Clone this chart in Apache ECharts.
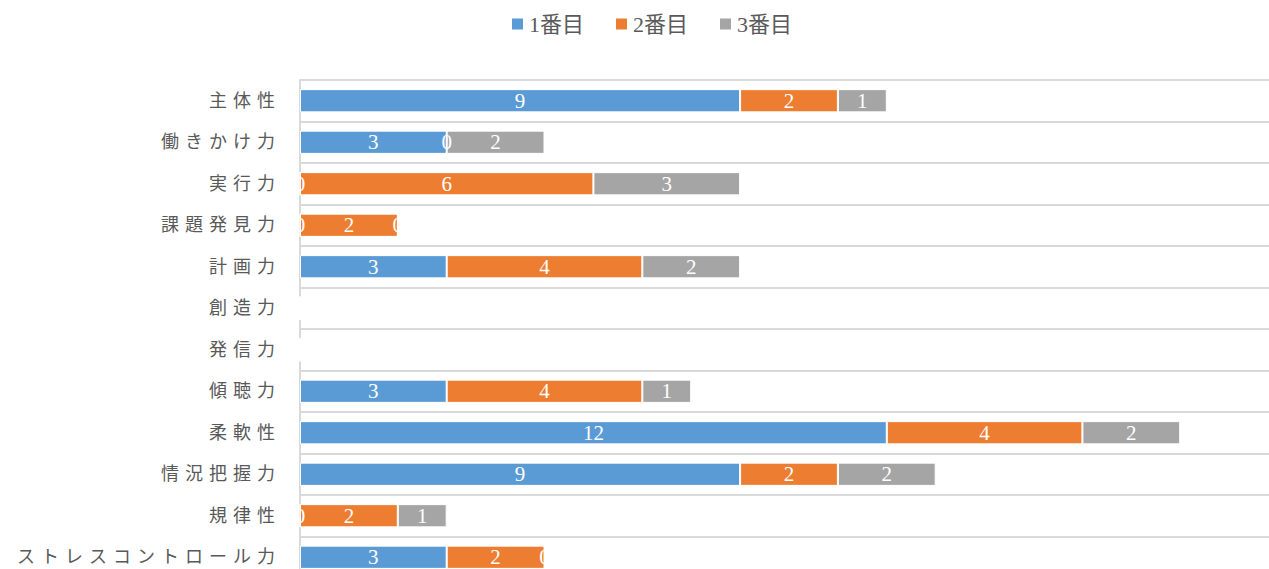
<!DOCTYPE html>
<html>
<head>
<meta charset="utf-8">
<script src="https://cdn.jsdelivr.net/npm/echarts@6/dist/echarts.min.js"></script>
<style>
  html, body { margin: 0; padding: 0; background: #fff; overflow: hidden; }
  #chart { width: 1280px; height: 580px; }
  #chart text[fill="#595959"] { letter-spacing: 6px; }
</style>
</head>
<body>
<div id="chart"></div>
<script>
const categories = ['主体性', '働きかけ力', '実行力', '課題発見力', '計画力', '創造力', '発信力', '傾聴力', '柔軟性', '情況把握力', '規律性', 'ストレスコントロール力'];
const seriesNames = ['1番目', '2番目', '3番目'];
const first  = [9, 3, 0, 0, 3, 0, 0, 3, 12, 9, 0, 3];
const second = [2, 0, 6, 2, 4, 0, 0, 4, 4, 2, 2, 2];
const third  = [1, 2, 3, 0, 2, 0, 0, 1, 2, 2, 1, 0];
const colors = ['#5B9BD5', '#ED7D31', '#A5A5A5'];

const FONT = "'Liberation Serif', 'Noto Sans CJK JP', serif";
const chart = echarts.init(document.getElementById('chart'), null, { renderer: 'svg' });
const values = [first, second, third];
chart.setOption({
  animation: false,
  legend: {
    top: 8,
    left: 505,
    itemWidth: 13,
    itemHeight: 13,
    itemGap: 30,
    icon: 'rect',
    textStyle: { fontFamily: FONT, fontSize: 22, color: '#5a5a5a' },
    data: seriesNames
  },
  grid: { left: 300, top: 80, width: 978, height: 498, containLabel: false },
  xAxis: {
    type: 'value',
    min: 0, max: 20, interval: 2,
    show: false,
    splitLine: { show: false }
  },
  yAxis: {
    type: 'category',
    data: categories,
    inverse: true,
    axisTick: { show: false },
    axisLine: { show: true, lineStyle: { color: '#d9d9d9', width: 2 } },
    splitLine: { show: true, lineStyle: { color: '#d9d9d9', width: 2 } },
    axisLabel: { fontFamily: FONT, fontSize: 18, color: '#595959', margin: 19 }
  },
  series: values.map((v, i) => ({
    name: seriesNames[i],
    type: 'bar',
    stack: 'total',
    data: v,
    barWidth: '56%',
    itemStyle: { color: colors[i], borderColor: '#fff', borderWidth: 1 },
    label: { show: true, position: 'inside', color: '#fff', fontFamily: FONT, fontSize: 21 }
  }))
});
</script>
</body>
</html>
